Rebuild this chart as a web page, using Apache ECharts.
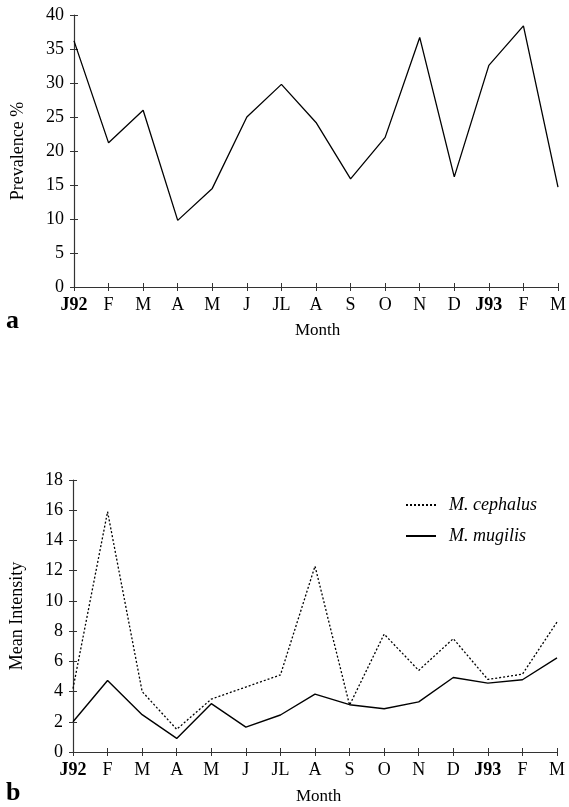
<!DOCTYPE html>
<html>
<head>
<meta charset="utf-8">
<script src="https://cdn.jsdelivr.net/npm/echarts@6/dist/echarts.min.js"></script>
<style>
	html, body { margin: 0; padding: 0; background: #fff; }
	#chart { width: 569px; height: 807px; }
</style>
</head>
<body>
<div id="chart"></div>
<script>
// 月份（横轴类别）
var months = ['J92', 'F', 'M', 'A', 'M', 'J', 'JL', 'A', 'S', 'O', 'N', 'D', 'J93', 'F', 'M']
// 加粗的年份标签
var boldMonths = ['J92', 'J93']

// 图 a：感染率 %
var prevalence = [36.2, 21.2, 26.0, 9.8, 14.5, 25.0, 29.8, 24.2, 15.9, 22.0, 36.7, 16.2, 32.6, 38.4, 14.7]

// 图 b：平均感染强度
var seriesNames = ['M. cephalus', 'M. mugilis']
var cephalus = [4.2, 15.9, 4.0, 1.5, 3.5, 4.3, 5.1, 12.3, 3.1, 7.8, 5.4, 7.5, 4.8, 5.15, 8.6]
var mugilis = [2.0, 4.73, 2.47, 0.9, 3.2, 1.65, 2.45, 3.83, 3.13, 2.86, 3.32, 4.93, 4.56, 4.78, 6.23]

var serif = 'Liberation Serif, Times New Roman, serif'

// 刻度线穿过轴线：一条轴画外侧刻度和标签，另一条只画内侧刻度
function xAxisCfg(gridIndex, inner) {
	return {
		type: 'category',
		gridIndex: gridIndex,
		position: 'bottom',
		data: months,
		boundaryGap: false,
		axisLine: { show: !inner, lineStyle: { color: '#333', width: 1.2 } },
		axisTick: { inside: inner, length: 4, interval: 0, lineStyle: { color: '#333' } },
		axisLabel: {
			show: !inner,
			interval: 0,
			margin: 9,
			fontFamily: serif,
			fontSize: 18,
			color: '#000',
			formatter: function (v) {
				return boldMonths.indexOf(v) >= 0 ? '{b|' + v + '}' : v
			},
			rich: { b: { fontWeight: 'bold', fontFamily: serif, fontSize: 18, color: '#000' } }
		}
	}
}

function yAxisCfg(gridIndex, max, interval, name, inner) {
	return {
		type: 'value',
		gridIndex: gridIndex,
		position: 'left',
		min: 0,
		max: max,
		interval: interval,
		name: inner ? '' : name,
		nameLocation: 'middle',
		nameGap: 47,
		nameTextStyle: { fontFamily: serif, fontSize: 18, color: '#000' },
		splitLine: { show: false },
		axisLine: { show: !inner, lineStyle: { color: '#333', width: 1.2 } },
		axisTick: { show: true, inside: inner, length: 4, lineStyle: { color: '#333' } },
		axisLabel: { show: !inner, margin: 10, fontFamily: serif, fontSize: 18, color: '#000' }
	}
}

var chart = echarts.init(document.getElementById('chart'))
var option = {
	animation: false,
	backgroundColor: '#fff',
	grid: [
		{ left: 74, right: 8, top: 15, height: 272 },
		{ left: 71, right: 12, top: 480, height: 272 }
	],
	xAxis: [xAxisCfg(0, false), xAxisCfg(1, false), xAxisCfg(0, true), xAxisCfg(1, true)],
	yAxis: [
		yAxisCfg(0, 40, 5, 'Prevalence %', false),
		yAxisCfg(1, 18, 2, 'Mean Intensity', false),
		yAxisCfg(0, 40, 5, '', true),
		yAxisCfg(1, 18, 2, '', true)
	],
	legend: {
		orient: 'vertical',
		left: 400,
		top: 491,
		itemWidth: 30,
		itemHeight: 14,
		itemGap: 13,
		data: seriesNames,
		itemStyle: { opacity: 0 },
		textStyle: { fontFamily: serif, fontSize: 18, fontStyle: 'italic', color: '#000', padding: [0, 0, 0, 8] }
	},
	graphic: [
		{ type: 'text', left: 295, top: 322, style: { text: 'Month', font: '17px ' + serif, fill: '#000' } },
		{ type: 'text', left: 296, top: 788, style: { text: 'Month', font: '17px ' + serif, fill: '#000' } },
		{ type: 'text', left: 6, top: 308, style: { text: 'a', font: 'bold 26px ' + serif, fill: '#000' } },
		{ type: 'text', left: 6, top: 780, style: { text: 'b', font: 'bold 26px ' + serif, fill: '#000' } }
	],
	series: [
		{
			type: 'line',
			xAxisIndex: 0,
			yAxisIndex: 0,
			data: prevalence,
			symbol: 'none',
			lineStyle: { color: '#000', width: 1.3 }
		},
		{
			name: seriesNames[0],
			type: 'line',
			xAxisIndex: 1,
			yAxisIndex: 1,
			data: cephalus,
			symbol: 'none',
			itemStyle: { color: '#000' },
			lineStyle: { color: '#000', width: 1.3, type: [2, 2] }
		},
		{
			name: seriesNames[1],
			type: 'line',
			xAxisIndex: 1,
			yAxisIndex: 1,
			data: mugilis,
			symbol: 'none',
			itemStyle: { color: '#000' },
			lineStyle: { color: '#000', width: 1.4 }
		}
	]
}
chart.setOption(option)
</script>
</body>
</html>
